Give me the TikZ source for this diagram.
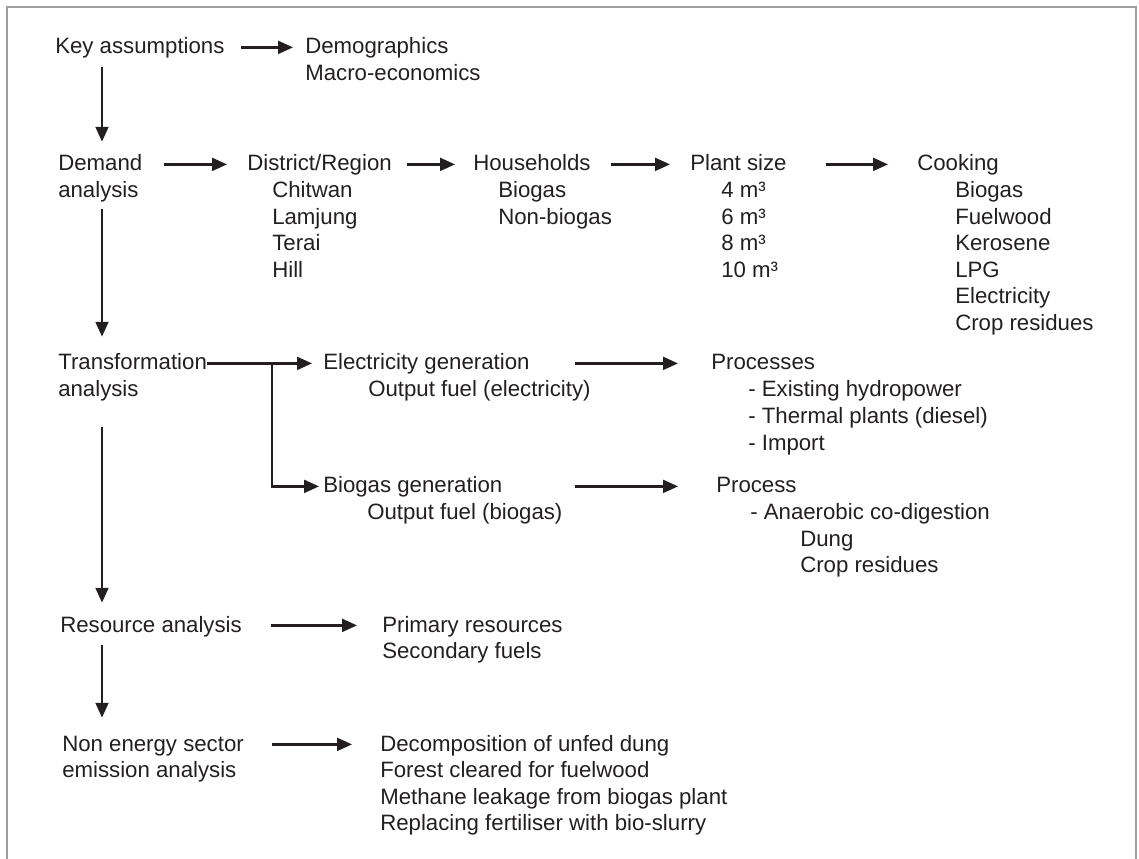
\documentclass[tikz,border=0pt]{standalone}
\usepackage{fontspec}
\setmainfont{Liberation Sans}
\usetikzlibrary{arrows.meta,calc}
\definecolor{ink}{RGB}{35,31,32}
\definecolor{rulegray}{RGB}{158,158,158}

\begin{document}
\begin{tikzpicture}[x=0.025cm,y=-0.025cm,>={Triangle[length=3.7mm,width=3.2mm]},
 txt/.style={anchor=base west,inner sep=0pt,text=ink,font=\fontsize{15.8pt}{19pt}\selectfont,text height=11pt,text depth=1.6pt},
 arr/.style={->,draw=ink,line width=1.6pt}]
\useasboundingbox (0,0) rectangle (1139,859);
\draw[rulegray,line width=1.5pt] (7,859) -- (7,7) -- (1136,7) -- (1136,859);
\coordinate (spine) at (102,0);
\coordinate (fork) at (272,0);

% main steps
\node[txt] (key) at (55,54) {Key assumptions};
\node[txt] (demand) at (58,171) {Demand};
\node[txt] (demand-2) at (58,197.5) {analysis};
\node[txt] (trans) at (58,370) {Transformation};
\node[txt] (trans-2) at (58,396.5) {analysis};
\node[txt] (resource) at (60,632) {Resource analysis};
\node[txt] (nonenergy) at (62,751) {Non energy sector};
\node[txt] (nonenergy-2) at (62,777.5) {emission analysis};

% key assumptions
\node[txt] (demog) at (305,54) {Demographics};
\node[txt] (macro) at (305,80.5) {Macro-economics};

% demand branch
\node[txt] (dist) at (247,171) {District/Region};
\foreach \lbl [count=\i] in {Chitwan,Lamjung,Terai,Hill}
  \node[txt] (dist-\i) at ($(dist.base west)+(25,\i*26.6)$) {\lbl};
\node[txt] (house) at (473,171) {Households};
\foreach \lbl [count=\i] in {Biogas,Non-biogas}
  \node[txt] (house-\i) at ($(house.base west)+(25,\i*26.6)$) {\lbl};
\node[txt] (plant) at (690,171) {Plant size};
\foreach \lbl [count=\i] in {4 m³,6 m³,8 m³,10 m³}
  \node[txt] (plant-\i) at ($(plant.base west)+(31,\i*26.6)$) {\lbl};
\node[txt] (cook) at (917,171) {Cooking};
\foreach \lbl [count=\i] in {Biogas,Fuelwood,Kerosene,LPG,Electricity,Crop residues}
  \node[txt] (cook-\i) at ($(cook.base west)+(38,\i*26.6)$) {\lbl};

% transformation branch
\node[txt] (elec) at (323,370) {Electricity generation};
\node[txt] (elec-2) at (368,396.5) {Output fuel (electricity)};
\node[txt] (procs) at (711,370) {Processes};
\foreach \lbl [count=\i] in {- Existing hydropower,- Thermal plants (diesel),- Import}
  \node[txt] (procs-\i) at ($(procs.base west)+(37,\i*27)$) {\lbl};
\node[txt] (biogen) at (323,493) {Biogas generation};
\node[txt] (biogen-2) at (367,519.5) {Output fuel (biogas)};
\node[txt] (proc) at (716,493) {Process};
\node[txt] (proc-1) at (750,519.5) {- Anaerobic co-digestion};
\node[txt] (proc-2) at (800,546) {Dung};
\node[txt] (proc-3) at (800,572.5) {Crop residues};

% resources and emissions
\node[txt] (primary) at (382,632) {Primary resources};
\node[txt] (secondary) at (382,658.5) {Secondary fuels};
\foreach \lbl [count=\i] in {Decomposition of unfed dung,Forest cleared for fuelwood,Methane leakage from biogas plant,Replacing fertiliser with bio-slurry}
  \node[txt] (emis-\i) at ($(380,751)+(0,\i*26.6-26.6)$) {\lbl};

% spine
\draw[arr,shorten <=0.25cm,shorten >=0.34cm] (spine |- key.south) -- (spine |- demand.north);
\draw[arr,shorten <=0.23cm,shorten >=0.44cm] (spine |- demand-2.south) -- (spine |- trans.north);
\draw[arr,shorten <=0.7cm,shorten >=0.34cm] (spine |- trans-2.south) -- (spine |- resource.north);
\draw[arr,shorten <=0.27cm,shorten >=0.44cm] (spine |- resource.south) -- (spine |- nonenergy.north);

% side links
\draw[arr,shorten <=0.4cm,shorten >=0.3cm] (key) -- (demog);
\draw[arr,shorten <=0.525cm,shorten >=0.5cm] (demand) -- (dist);
\draw[arr,shorten <=0.375cm,shorten >=0.45cm] (dist) -- (house);
\draw[arr,shorten <=0.5cm,shorten >=0.5cm] (house) -- (plant);
\draw[arr,shorten <=0.975cm,shorten >=0.725cm] (plant) -- (cook);
\draw[arr,shorten >=0.275cm] (trans) -- (elec);
\draw[arr,shorten >=0.1cm] (fork |- trans.east) |- (biogen);
\draw[arr,shorten <=1.125cm,shorten >=0.825cm] (elec) -- (procs);
\draw[arr,shorten <=1.8cm,shorten >=0.95cm] (biogen) -- (proc);
\draw[arr,shorten <=0.725cm,shorten >=0.625cm] (resource) -- (primary);
\draw[arr,shorten <=0.7cm,shorten >=0.7cm] (nonenergy) -- (emis-1);
\end{tikzpicture}
\end{document}
